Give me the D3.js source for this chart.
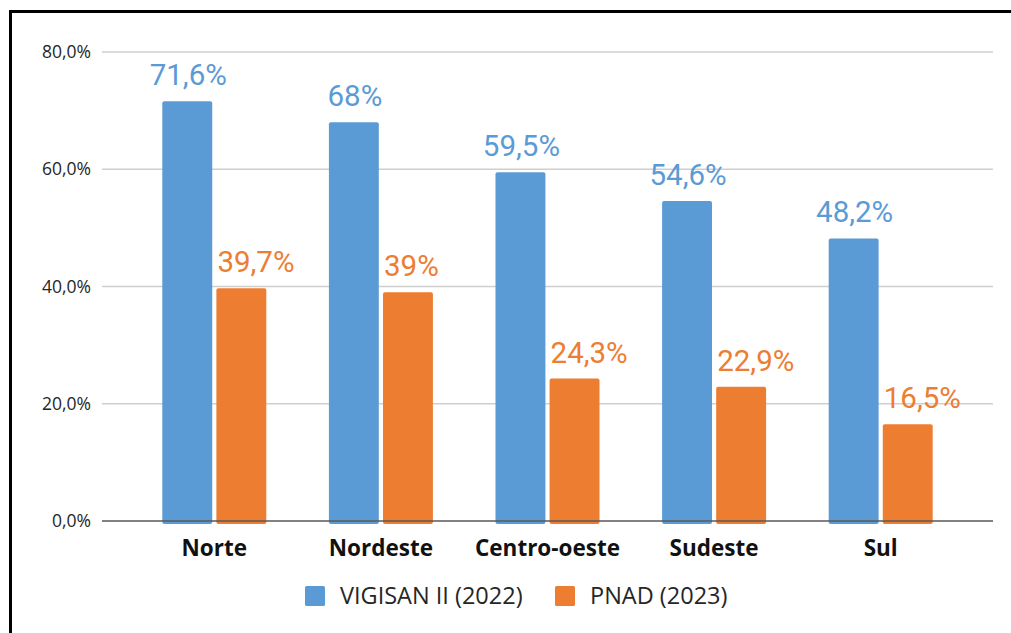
<!DOCTYPE html>
<html>
<head>
<meta charset="utf-8">
<script src="https://cdn.jsdelivr.net/npm/d3@7"></script>
<style>
  body { margin: 0; background: #fff; }
  svg { display: block; }
</style>
</head>
<body>
<svg></svg>
<script>
// data
var regions = ["Norte", "Nordeste", "Centro-oeste", "Sudeste", "Sul"];
var seriesNames = ["VIGISAN II (2022)", "PNAD (2023)"];
var vigisan = [71.6, 68, 59.5, 54.6, 48.2];
var pnad = [39.7, 39, 24.3, 22.9, 16.5];
var yTicks = [0, 20, 40, 60, 80];
var colors = ["#5B9BD5", "#ED7D31"];

var width = 1011;
var height = 633;

var svg = d3.select("svg")
    .attr("width", width)
    .attr("height", height);

// frame (cut off on the right and bottom)
svg.append("rect")
    .attr("x", 10.5).attr("y", 11.5)
    .attr("width", 1100).attr("height", 700)
    .attr("fill", "none")
    .attr("stroke", "#000")
    .attr("stroke-width", 3);

var y = d3.scaleLinear().domain([0, 80]).range([521, 52]);
var x0 = d3.scaleBand().domain(regions).range([131, 964]).padding(0);
var bw = x0.bandwidth();
var x1 = d3.scaleBand().domain(seriesNames).range([bw / 2 - 52, bw / 2 + 52]).paddingInner(0.077);

var fmtTick = v => v.toFixed(1).replace(".", ",") + "%";
var fmtVal = v => String(v).replace(".", ",") + "%";

// grid
svg.append("g")
  .selectAll("line")
  .data(yTicks.filter(t => t > 0))
  .join("line")
    .attr("x1", 102).attr("x2", 993)
    .attr("y1", d => y(d)).attr("y2", d => y(d))
    .attr("stroke", "#cfcfcf")
    .attr("stroke-width", 1.5);

// y axis labels
svg.append("g")
  .selectAll("text")
  .data(yTicks)
  .join("text")
    .attr("x", 91)
    .attr("y", d => y(d) + 6)
    .attr("text-anchor", "end")
    .attr("font-family", "Open Sans")
    .attr("font-size", 17.5)
    .attr("fill", "#262626")
    .text(fmtTick);

var rows = regions.map((r, i) => ({ region: r, values: [vigisan[i], pnad[i]] }));

var group = svg.append("g")
  .selectAll("g")
  .data(rows)
  .join("g")
    .attr("transform", d => "translate(" + x0(d.region) + ",0)");

group.selectAll("rect")
  .data(d => d.values.map((v, k) => ({ s: seriesNames[k], k: k, v: v })))
  .join("rect")
    .attr("x", d => x1(d.s))
    .attr("y", d => y(d.v))
    .attr("width", x1.bandwidth())
    .attr("height", d => y(0) - y(d.v) + 3)
    .attr("rx", 2)
    .attr("fill", d => colors[d.k]);

group.selectAll("text")
  .data(d => d.values.map((v, k) => ({ s: seriesNames[k], k: k, v: v })))
  .join("text")
    .attr("x", d => d.k === 0 ? x1(d.s) + x1.bandwidth() / 2 + 1 : x1(d.s) + 1)
    .attr("y", d => y(d.v) - 16)
    .attr("text-anchor", d => d.k === 0 ? "middle" : "start")
    .attr("font-family", "Roboto")
    .attr("font-size", 29.5)
    .attr("fill", d => colors[d.k])
    .text(d => fmtVal(d.v));

// baseline
svg.append("line")
    .attr("x1", 102).attr("x2", 993)
    .attr("y1", y(0)).attr("y2", y(0))
    .attr("stroke", "#595959")
    .attr("stroke-width", 1.5);

// category labels
svg.append("g")
  .selectAll("text")
  .data(regions)
  .join("text")
    .attr("x", d => x0(d) + bw / 2)
    .attr("y", 556)
    .attr("text-anchor", "middle")
    .attr("font-family", "Open Sans")
    .attr("font-weight", "bold")
    .attr("font-size", 22.5)
    .attr("fill", "#111")
    .text(d => d);

// legend
var legendX = [305, 555];
var legend = svg.append("g")
  .selectAll("g")
  .data(seriesNames)
  .join("g")
    .attr("transform", (d, i) => "translate(" + legendX[i] + ",586)");

legend.append("rect")
    .attr("width", 20).attr("height", 20)
    .attr("rx", 1.5)
    .attr("fill", (d, i) => colors[i]);

legend.append("text")
    .attr("x", 35)
    .attr("y", 18)
    .attr("font-family", "Open Sans")
    .attr("font-size", 23.5)
    .attr("fill", "#262626")
    .text(d => d);
</script>
</body>
</html>
